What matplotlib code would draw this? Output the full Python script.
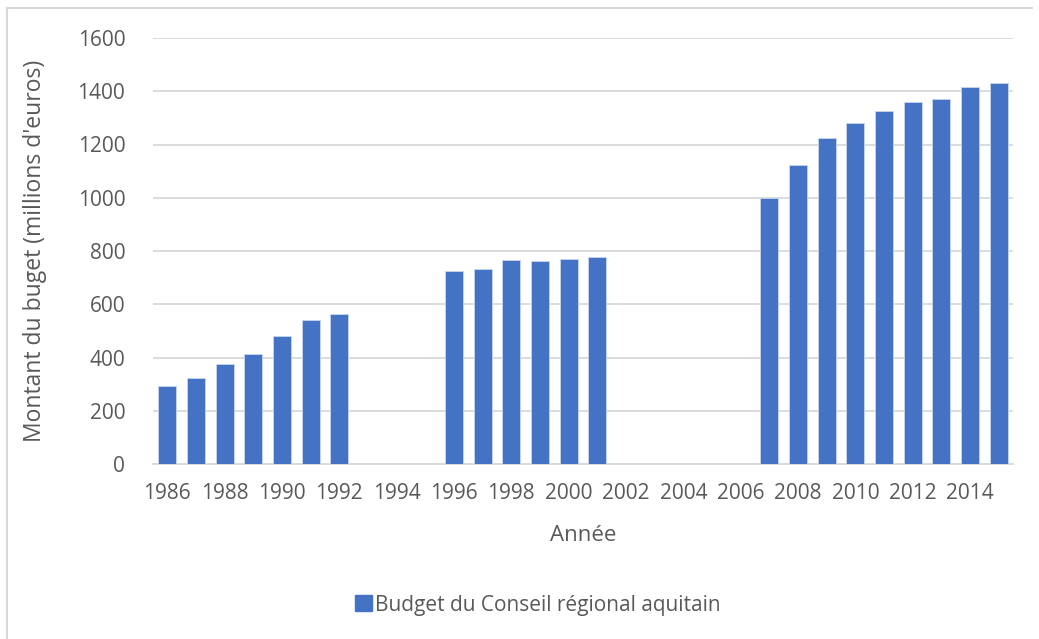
import matplotlib.pyplot as plt
from matplotlib.lines import Line2D
import numpy as np

plt.rcParams['font.family'] = ['Open Sans', 'DejaVu Sans']

years = [1986, 1987, 1988, 1989, 1990, 1991, 1992,
         1996, 1997, 1998, 1999, 2000, 2001,
         2007, 2008, 2009, 2010, 2011, 2012, 2013, 2014, 2015]
budget = [292, 322, 377, 412, 482, 542, 562,
          725, 734, 768, 763, 771, 777,
          1000, 1124, 1224, 1280, 1327, 1360, 1370, 1416, 1430]
tick_years = list(range(1986, 2015, 2))

blue = '#4472C4'
grey_txt = '#595959'
grid_c = '#D9D9D9'

fig = plt.figure(figsize=(10.39, 6.39), dpi=100)
ax = fig.add_axes([153 / 1039, 1 - 464 / 639, 860 / 1039, 426 / 639])

ax.bar(years, budget, width=0.62, color=blue, edgecolor='#C9D6EE',
       linewidth=0.6, label='Budget du Conseil régional aquitain', zorder=3)

ax.set_xlim(1985.5, 2015.5)
ax.set_ylim(0, 1600)
ax.set_yticks(range(0, 1601, 200))
ax.set_xticks(tick_years)
ax.grid(axis='y', color=grid_c, linewidth=1.3, zorder=0)
for s in ['top', 'right', 'left']:
    ax.spines[s].set_visible(False)
ax.spines['bottom'].set_color(grid_c)
ax.spines['bottom'].set_linewidth(1.3)
ax.tick_params(length=0, labelsize=15, colors=grey_txt)
ax.tick_params(axis='x', pad=14)
ax.tick_params(axis='y', pad=20)

ax.set_xlabel('Année', fontsize=16, color=grey_txt)
ax.set_ylabel("Montant du buget (millions d'euros)", fontsize=16.5, color=grey_txt)
ax.xaxis.set_label_coords(0.5, -0.167, transform=ax.transAxes)
ax.xaxis.label.set_va('center')
ax.yaxis.set_label_coords(-0.137, 0.5, transform=ax.transAxes)
ax.yaxis.label.set_va('center')

handles = [plt.Rectangle((0, 0), 1, 1, color=blue)]
fig.legend(handles, ['Budget du Conseil régional aquitain'], loc='center',
           bbox_to_anchor=(538 / 1039, 1 - 605 / 639), frameon=False,
           fontsize=15, labelcolor=grey_txt, handlelength=0.8, handleheight=0.8,
           handletextpad=0.15)

# chart area border (left and top edges visible)
fig.add_artist(Line2D([7 / 1039, 7 / 1039], [0, 1 - 8 / 639], color=grid_c, linewidth=1.5))
fig.add_artist(Line2D([7 / 1039, 1032 / 1039], [1 - 8 / 639, 1 - 8 / 639], color=grid_c, linewidth=1.5))

fig.savefig('out.png', dpi=100)
